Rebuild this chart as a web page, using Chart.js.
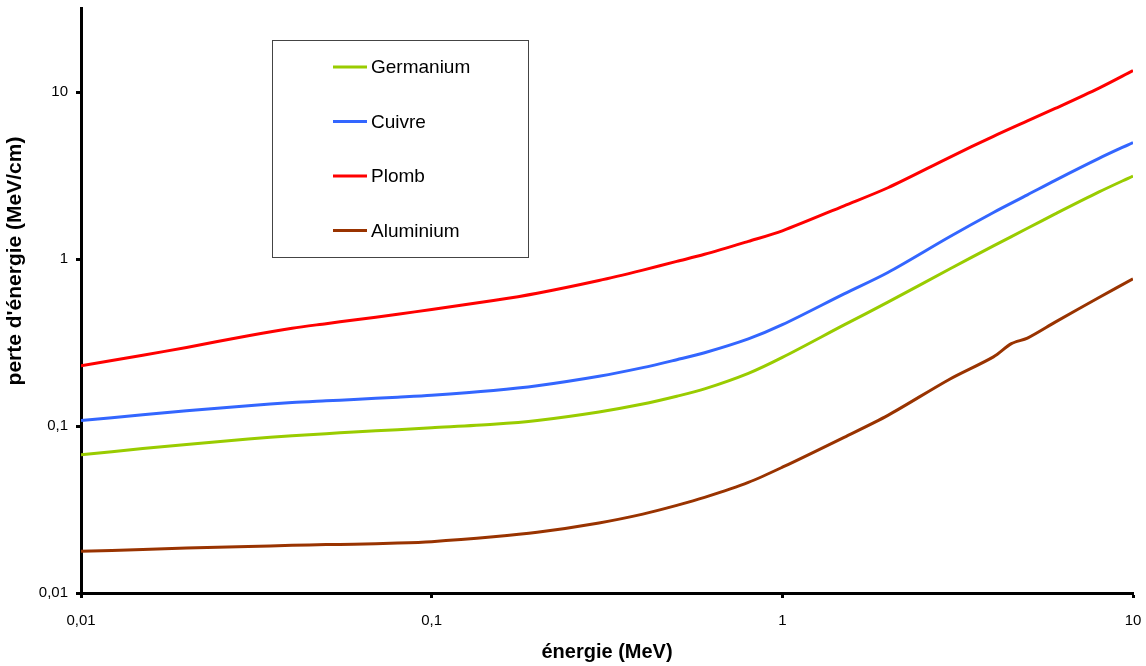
<!DOCTYPE html>
<html>
<head>
<meta charset="utf-8">
<title>perte d'énergie</title>
<script src="https://cdn.jsdelivr.net/npm/chart.js@4"></script>
<style>
  html, body { margin: 0; padding: 0; background: #fff; }
  #wrap { width: 1146px; height: 666px; }
</style>
</head>
<body>
<div id="wrap"><canvas id="chart" width="1146" height="666"></canvas></div>
<script>
// energies (MeV)
const energies = [0.01, 0.015, 0.02, 0.03, 0.04, 0.05, 0.06, 0.08, 0.1, 0.15, 0.2, 0.3, 0.4, 0.5, 0.6, 0.8, 1, 1.5, 2, 3, 4, 5, 6, 8, 10];
// aluminium has an extra point at 4.5 MeV (small kink in the curve)
const aluEnergies = [0.01, 0.015, 0.02, 0.03, 0.04, 0.05, 0.06, 0.08, 0.1, 0.15, 0.2, 0.3, 0.4, 0.5, 0.6, 0.8, 1, 1.5, 2, 3, 4, 4.5, 5, 6, 8, 10];

// energy loss (MeV/cm)
const germanium = [0.0673, 0.0734, 0.0776, 0.0836, 0.0876, 0.0901, 0.0922, 0.0952, 0.0977, 0.1025, 0.108, 0.1215, 0.1355, 0.151, 0.167, 0.207, 0.258, 0.404, 0.553, 0.873, 1.202, 1.532, 1.868, 2.53, 3.15];
const cuivre = [0.108, 0.1168, 0.1235, 0.1325, 0.1385, 0.1418, 0.1444, 0.149, 0.153, 0.1635, 0.1745, 0.199, 0.224, 0.25, 0.275, 0.333, 0.405, 0.62, 0.833, 1.364, 1.906, 2.43, 2.97, 4.02, 5.0];
const plomb = [0.23, 0.266, 0.296, 0.348, 0.386, 0.411, 0.432, 0.468, 0.50, 0.565, 0.625, 0.745, 0.86, 0.97, 1.07, 1.28, 1.48, 2.09, 2.68, 4.08, 5.45, 6.74, 8.0, 10.6, 13.5];
const aluminium = [0.0178, 0.0182, 0.0186, 0.019, 0.0193, 0.0195, 0.0196, 0.0199, 0.0203, 0.0217, 0.0231, 0.0263, 0.0297, 0.0335, 0.0374, 0.046, 0.0567, 0.0857, 0.116, 0.191, 0.26, 0.312, 0.337, 0.42, 0.59, 0.762];

const seriesNames = ["Germanium", "Cuivre", "Plomb", "Aluminium"];
const seriesColors = ["#99CC00", "#3366FF", "#FF0000", "#993300"];
const xTicks = [0.01, 0.1, 1, 10];
const yTicks = [0.01, 0.1, 1, 10];
const yTitle = "perte d'énergie (MeV/cm)";

const FONT = "Arial, 'Liberation Sans', sans-serif";

const toPoints = (xs, ys) => ys.map((y, i) => ({ x: xs[i], y: y }));

const seriesData = [
    toPoints(energies, germanium),
    toPoints(energies, cuivre),
    toPoints(energies, plomb),
    toPoints(aluEnergies, aluminium),
];

const commaLabel = (v) => String(v).replace(".", ",");

// scales should not push the plot area in for their edge labels
const noEdgePadding = (scale) => {
    scale.paddingTop = 0;
    scale.paddingBottom = 0;
    scale.paddingLeft = 0;
    scale.paddingRight = 0;
};

// legend box inside the plot + y title (the original plot is cropped at the top,
// so its title sits above the middle of the visible axis)
const boxLegend = {
    id: "boxLegend",
    afterDraw(chart) {
        const ctx = chart.ctx;
        ctx.save();
        ctx.strokeStyle = "#444";
        ctx.lineWidth = 1;
        ctx.strokeRect(272.5, 40.5, 256, 217);
        ctx.font = "19px " + FONT;
        ctx.textBaseline = "middle";
        ctx.fillStyle = "#000";
        chart.data.datasets.forEach((ds, i) => {
            const y = 67 + i * 54.5;
            ctx.strokeStyle = ds.borderColor;
            ctx.lineWidth = 3;
            ctx.beginPath();
            ctx.moveTo(333, y);
            ctx.lineTo(367, y);
            ctx.stroke();
            ctx.fillText(ds.label, 371, y + 1);
        });

        ctx.translate(15, 261);
        ctx.rotate(-Math.PI / 2);
        ctx.font = "bold 21px " + FONT;
        ctx.textAlign = "center";
        ctx.fillText(yTitle, 0, 0);
        ctx.restore();
    },
};

const ctx = document.getElementById("chart").getContext("2d");
new Chart(ctx, {
    type: "line",
    data: {
        datasets: seriesNames.map((name, i) => ({
            label: name,
            data: seriesData[i],
            borderColor: seriesColors[i],
            backgroundColor: seriesColors[i],
            borderWidth: 3,
            pointRadius: 0,
            fill: false,
            tension: 0.3,
        })),
    },
    options: {
        responsive: false,
        animation: false,
        layout: { padding: { top: 8, right: 13, left: 0, bottom: 0 } },
        plugins: {
            legend: { display: false },
            tooltip: { enabled: false },
        },
        scales: {
            x: {
                type: "logarithmic",
                min: 0.01,
                max: 10,
                afterBuildTicks: (scale) => { scale.ticks = xTicks.map((v) => ({ value: v })); },
                afterFit: (scale) => { scale.height = 73; noEdgePadding(scale); },
                border: { display: true, color: "#000", width: 3 },
                grid: { drawOnChartArea: false, drawTicks: true, tickLength: 5, tickWidth: 3, tickColor: "#000" },
                ticks: {
                    color: "#000",
                    font: { family: FONT, size: 15 },
                    padding: 14,
                    maxRotation: 0,
                    autoSkip: false,
                    callback: (v) => commaLabel(v),
                },
                title: {
                    display: true,
                    text: "énergie (MeV)",
                    color: "#000",
                    font: { family: FONT, size: 20, weight: "bold" },
                    padding: { top: 0, bottom: 2 },
                },
            },
            y: {
                type: "logarithmic",
                min: 0.01,
                max: 32,
                afterBuildTicks: (scale) => { scale.ticks = yTicks.map((v) => ({ value: v })); },
                afterFit: (scale) => { scale.width = 81; noEdgePadding(scale); },
                border: { display: true, color: "#000", width: 3 },
                grid: { drawOnChartArea: false, drawTicks: true, tickLength: 5, tickWidth: 3, tickColor: "#000" },
                ticks: {
                    color: "#000",
                    font: { family: FONT, size: 15 },
                    padding: 8,
                    autoSkip: false,
                    callback: (v) => commaLabel(v),
                },
                title: { display: false },
            },
        },
    },
    plugins: [boxLegend],
});
</script>
</body>
</html>
